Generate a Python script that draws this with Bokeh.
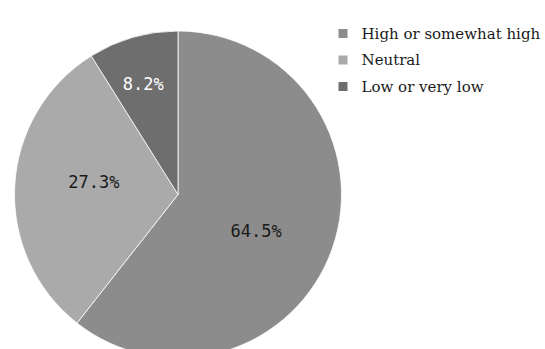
import numpy as np
from bokeh.plotting import figure
from bokeh.models import Range1d, ColumnDataSource
from bokeh.core.properties import value
from bokeh.embed import file_html
from bokeh.resources import INLINE

categories = ["High or somewhat high", "Neutral", "Low or very low"]
# slice sizes as drawn (read from the slice boundaries)
slice_shares = [60.6, 30.5, 8.9]
# percentages printed on the slices
label_shares = [64.5, 27.3, 8.2]
colors = ["#8c8c8c", "#aaaaaa", "#6e6e6e"]
label_colors = ["#1a1a1a", "#1a1a1a", "#ffffff"]

W, H = 545, 349
cx, cy, R = 177.5, H - 194, 163.5
label_dist = [86, 85, 116]
label_shift_deg = [-1.3, -3.0, -2.7]

vals = np.array(slice_shares, dtype=float)
frac = vals / vals.sum()
cum_end = np.cumsum(frac)
cum_start = cum_end - frac
start_angle = np.pi / 2 - cum_end * 2 * np.pi
end_angle = np.pi / 2 - cum_start * 2 * np.pi

lv = np.array(label_shares, dtype=float)
lfrac = lv / lv.sum()
lmid_cw = (np.cumsum(lfrac) - lfrac / 2) * 360 + np.array(label_shift_deg)
lmid = np.pi / 2 - np.radians(lmid_cw)

src = ColumnDataSource(dict(
    x=[cx] * 3, y=[cy] * 3, start=start_angle, end=end_angle, color=colors,
))
lab = ColumnDataSource(dict(
    lx=cx + np.array(label_dist) * np.cos(lmid),
    ly=cy + np.array(label_dist) * np.sin(lmid),
    txt=[f"{v:.1f}%" for v in label_shares], tcolor=label_colors,
))

p = figure(width=W, height=H, output_backend="svg", toolbar_location=None,
           x_range=Range1d(0, W), y_range=Range1d(0, H), min_border=0)
p.axis.visible = False
p.grid.visible = False
p.outline_line_color = None
p.background_fill_color = "white"
p.border_fill_color = "white"

p.wedge(x="x", y="y", radius=R, radius_units="screen", start_angle="start", end_angle="end",
        fill_color="color", line_color="white", line_width=0.8, source=src)
p.text(x="lx", y="ly", text="txt", text_color="tcolor", text_align="center",
       text_baseline="middle", text_font=value("DejaVu Sans Mono"), text_font_size="17px",
       source=lab)

leg_y = [H - 33, H - 59.5, H - 86]
leg = ColumnDataSource(dict(x=[342.5] * 3, y=leg_y, color=colors, tx=[361] * 3, label=categories))
p.scatter(x="x", y="y", marker="square", size=9, fill_color="color", line_color=None, source=leg)
p.text(x="tx", y="y", text="label", text_color="#1a1a1a", text_align="left", text_baseline="middle",
       text_font=value("DejaVu Serif"), text_font_size="15px", source=leg)

open("out.html", "w").write(file_html(p, INLINE))
